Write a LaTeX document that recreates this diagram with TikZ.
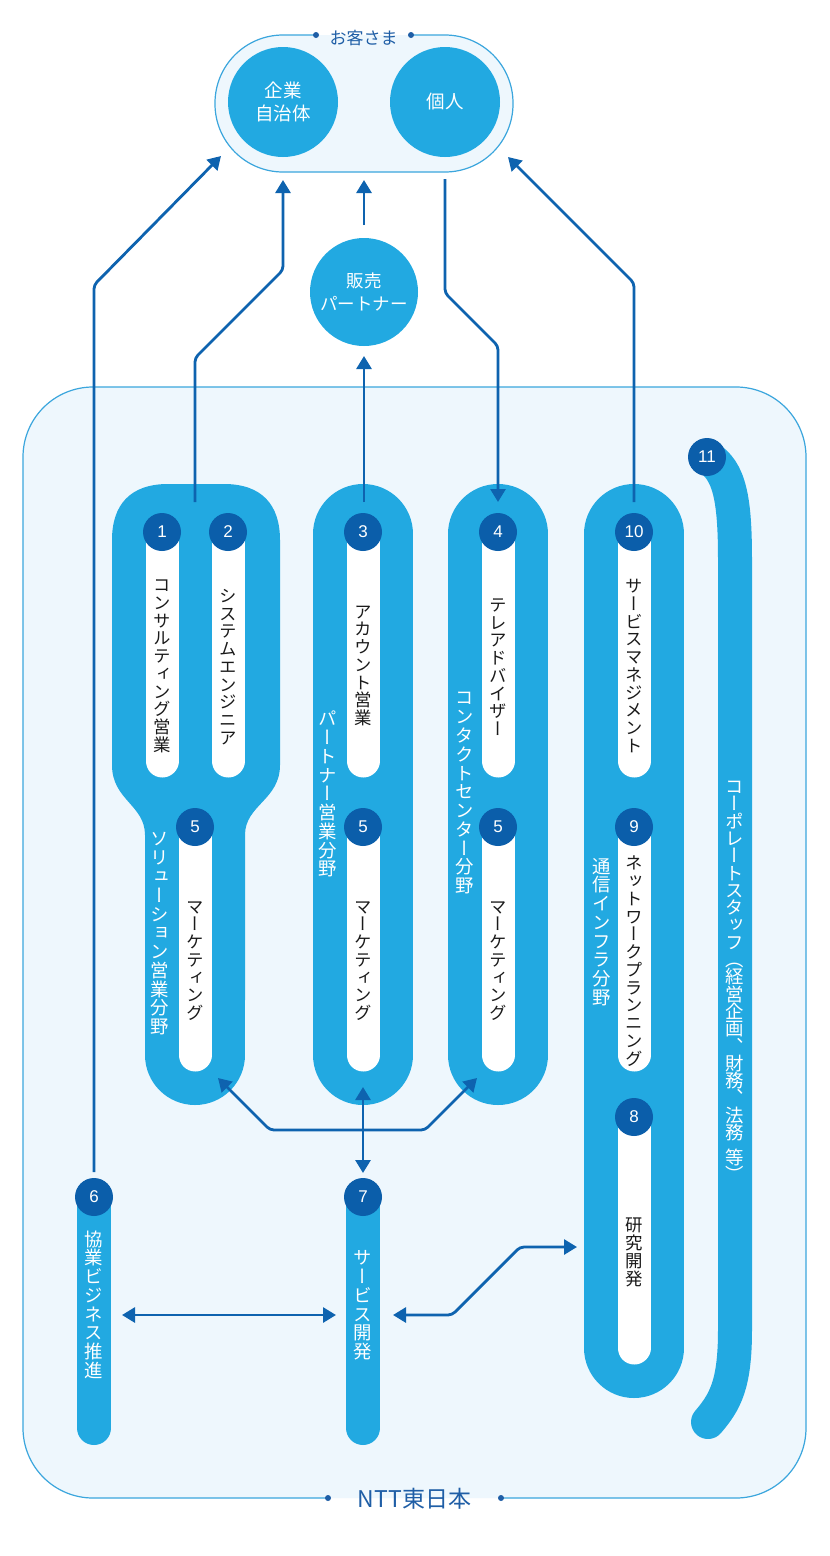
\documentclass[tikz,border=0pt]{standalone}
\usepackage{fontspec}
\setmainfont{Noto Sans CJK JP}
\newfontfamily\vjp[RawFeature=+vert]{Noto Sans CJK JP}
\newfontfamily\numf{Liberation Sans}
\usetikzlibrary{arrows.meta}
\definecolor{boxfill}{HTML}{EEF7FD}
\definecolor{boxline}{HTML}{3BA6DD}
\definecolor{pillc}{HTML}{22A9E1}
\definecolor{darkb}{HTML}{0B5EAA}
\definecolor{arrowc}{HTML}{0E63AF}
\definecolor{labc}{HTML}{1F5EA6}
\definecolor{txtc}{HTML}{1A1A1A}
\newdimen\vtsep
\def\vtstop{\vtstop}
\def\vgap{\vgap}
\def\vtitem#1{\ifx#1\vgap\kern.4em\else\hbox to 1em{\hss\vrule height .88em depth .12em width 0pt\relax#1\hss}\kern\vtsep\fi}
\def\vtloop#1{\ifx#1\vtstop\let\vtnext\relax\else\vtitem{#1}\let\vtnext\vtloop\fi\vtnext}
\newcommand\vtext[2][.02em]{\vbox{\offinterlineskip\vtsep=#1\relax\vtloop#2\vtstop}}
\tikzset{
  pillband/.style={line width=100pt, line cap=round, draw=pillc},
  thinpill/.style={line width=34pt, line cap=round, draw=pillc},
  whitepill/.style={line width=33pt, line cap=round, draw=white},
  numdot/.style={circle, fill=darkb, minimum size=38pt, inner sep=0pt, text=white, font=\numf\fontsize{17}{17}\selectfont},
  blacklab/.style={inner sep=0pt, text=txtc, font=\vjp\fontsize{17.4}{17.4}\selectfont},
  whitelab/.style={inner sep=0pt, text=white, font=\vjp\fontsize{18.4}{18.4}\selectfont},
  custc/.style={circle, fill=pillc, minimum size=110pt, inner sep=0pt, text=white, align=center, font=\fontsize{18.5}{23}\selectfont},
  connline/.style={draw=arrowc, line width=2.8pt, rounded corners=4pt},
  arrend/.style={-{Triangle[width=15pt,length=13pt]}},
  arrboth/.style={{Triangle[width=15pt,length=13pt]}-{Triangle[width=15pt,length=13pt]}},
  grouplab/.style={text=labc, inner sep=0pt},
}
\begin{document}
\begin{tikzpicture}[x=1pt,y=-1pt]
\useasboundingbox (0,0) rectangle (830,1556);
\fill[white] (0,0) rectangle (830,1556);
% NTT box
\fill[boxfill, rounded corners=70pt] (23,387) rectangle (806,1498);
\coordinate (nl) at (328,1498);
\coordinate (nr) at (501,1498);
\draw[boxline, line width=1.2pt, rounded corners=70pt] (nl) -- (23,1498) -- (23,387) -- (806,387) -- (806,1498) -- (nr);
\fill[labc] (nl) circle (3pt);
\fill[labc] (nr) circle (3pt);
\node[grouplab, font=\fontsize{23}{23}\selectfont] (ntt) at (414.5,1499) {NTT東日本};
% customer pill
\fill[boxfill, rounded corners=68pt] (215,35) rectangle (513,172);
\coordinate (cl) at (316,35);
\coordinate (cr) at (411,35);
\draw[boxline, line width=1.2pt, rounded corners=68pt] (cl) -- (215,35) -- (215,172) -- (513,172) -- (513,35) -- (cr);
\fill[labc] (cl) circle (3pt);
\fill[labc] (cr) circle (3pt);
\node[grouplab, font=\fontsize{17}{17}\selectfont] (cust) at (363.5,38) {お客さま};
\node[custc] (corp) at (283,102) {企業\\自治体};
\node[custc] (indiv) at (445,102) {個人};
\node[custc, minimum size=108pt, font=\fontsize{17.5}{23}\selectfont] (sales) at (364,292) {販売\\パートナー};
% pills
\fill[pillc] (145,1000) -- (145,835) .. controls (145,805) and (112,800) .. (112,765) -- (112,540) .. controls (112,505) and (130,484) .. (168,484) -- (224,484) .. controls (262,484) and (280,505) .. (280,540) -- (280,765) .. controls (280,800) and (245,805) .. (245,835) -- (245,1000) -- cycle;
\draw[pillband] (195,990) -- (195,1055);
\draw[pillband] (363,534) -- (363,1055);
\draw[pillband] (498,534) -- (498,1055);
\draw[pillband] (634,534) -- (634,1348);
\draw[thinpill] (707,457) .. controls (730,470) and (735,500) .. (735,560) -- (735,1330) .. controls (735,1385) and (725,1402) .. (708,1422);
\draw[thinpill] (94,1197) -- (94,1428);
\draw[thinpill] (363,1197) -- (363,1428);
% white inner pills
\draw[whitepill] (162,532) -- (162,761);
\draw[whitepill] (228,532) -- (228,761);
\draw[whitepill] (363,532) -- (363,761);
\draw[whitepill] (498,532) -- (498,761);
\draw[whitepill] (634,532) -- (634,761);
\draw[whitepill] (195,827) -- (195,1055);
\draw[whitepill] (363,827) -- (363,1055);
\draw[whitepill] (498,827) -- (498,1055);
\draw[whitepill] (634,827) -- (634,1055);
\draw[whitepill] (634,1117) -- (634,1348);
% number dots
\node[numdot] (n1) at (162,532) {1};
\node[numdot] (n2) at (228,532) {2};
\node[numdot] (n3) at (363,532) {3};
\node[numdot] (n4) at (498,532) {4};
\node[numdot] (n10) at (634,532) {10};
\node[numdot] (n5a) at (195,827) {5};
\node[numdot] (n5b) at (363,827) {5};
\node[numdot] (n5c) at (498,827) {5};
\node[numdot] (n9) at (634,827) {9};
\node[numdot] (n8) at (634,1117) {8};
\node[numdot] (n11) at (707,457) {11};
\node[numdot] (n6) at (94,1197) {6};
\node[numdot] (n7) at (363,1197) {7};
% black labels
\node[blacklab] (t1) at (162,665) {\vtext{コンサルティング営業}};
\node[blacklab] (t2) at (228,667) {\vtext{システムエンジニア}};
\node[blacklab] (t3) at (363,665) {\vtext{アカウント営業}};
\node[blacklab] (t4) at (498,667) {\vtext{テレアドバイザー}};
\node[blacklab] (t10) at (634,666) {\vtext{サービスマネジメント}};
\node[blacklab] (t5a) at (195,960) {\vtext{マーケティング}};
\node[blacklab] (t5b) at (363,960) {\vtext{マーケティング}};
\node[blacklab] (t5c) at (498,960) {\vtext{マーケティング}};
\node[blacklab] (t9) at (634,961) {\vtext{ネットワークプランニング}};
\node[blacklab] (t8) at (634,1252) {\vtext{研究開発}};
% white labels
\node[whitelab] (f1) at (160,933) {\vtext{ソリューション営業分野}};
\node[whitelab] (f2) at (328,794) {\vtext{パートナー営業分野}};
\node[whitelab] (f3) at (465,792) {\vtext{コンタクトセンター分野}};
\node[whitelab] (f4) at (602,932) {\vtext{通信インフラ分野}};
\node[whitelab] (f5) at (735,980) {\vtext[-.06em]{コーポレートスタッフ（経営企画、財務、法務\vgap 等）}};
\node[whitelab] (f6) at (94,1305) {\vtext{協業ビジネス推進}};
\node[whitelab] (f7) at (363,1305) {\vtext{サービス開発}};
% connectors
\coordinate (a1s) at (94,1172);
\coordinate (a1b) at (94,285);
\coordinate (a1e) at (221,156);
\draw[connline, arrend] (a1s) -- (a1b) -- (a1e);
\coordinate (a2s) at (195,502);
\coordinate (a2b) at (195,358);
\coordinate (a2c) at (283,270);
\coordinate (a2e) at (283,180);
\draw[connline, arrend] (a2s) -- (a2b) -- (a2c) -- (a2e);
\coordinate (a3s) at (364,225);
\coordinate (a3e) at (364,180);
\draw[connline, arrend] (a3s) -- (a3e);
\coordinate (a4s) at (364,502);
\coordinate (a4e) at (364,356);
\draw[connline, arrend] (a4s) -- (a4e);
\coordinate (a5s) at (445,179);
\coordinate (a5b) at (445,293);
\coordinate (a5c) at (498,346);
\coordinate (a5e) at (498,502);
\draw[connline, arrend] (a5s) -- (a5b) -- (a5c) -- (a5e);
\coordinate (a6s) at (634,502);
\coordinate (a6b) at (634,283);
\coordinate (a6e) at (508,157);
\draw[connline, arrend] (a6s) -- (a6b) -- (a6e);
\coordinate (b1s) at (218,1078);
\coordinate (b1b) at (270,1130);
\coordinate (b1c) at (425,1130);
\coordinate (b1e) at (477,1078);
\draw[connline, arrboth] (b1s) -- (b1b) -- (b1c) -- (b1e);
\coordinate (b2s) at (363,1087);
\coordinate (b2e) at (363,1173);
\draw[connline, arrboth] (b2s) -- (b2e);
\coordinate (b3s) at (122,1315);
\coordinate (b3e) at (336,1315);
\draw[connline, arrboth] (b3s) -- (b3e);
\coordinate (b4s) at (393,1315);
\coordinate (b4b) at (452,1315);
\coordinate (b4c) at (520,1247);
\coordinate (b4e) at (577,1247);
\draw[connline, arrboth] (b4s) -- (b4b) -- (b4c) -- (b4e);
\end{tikzpicture}
\end{document}
